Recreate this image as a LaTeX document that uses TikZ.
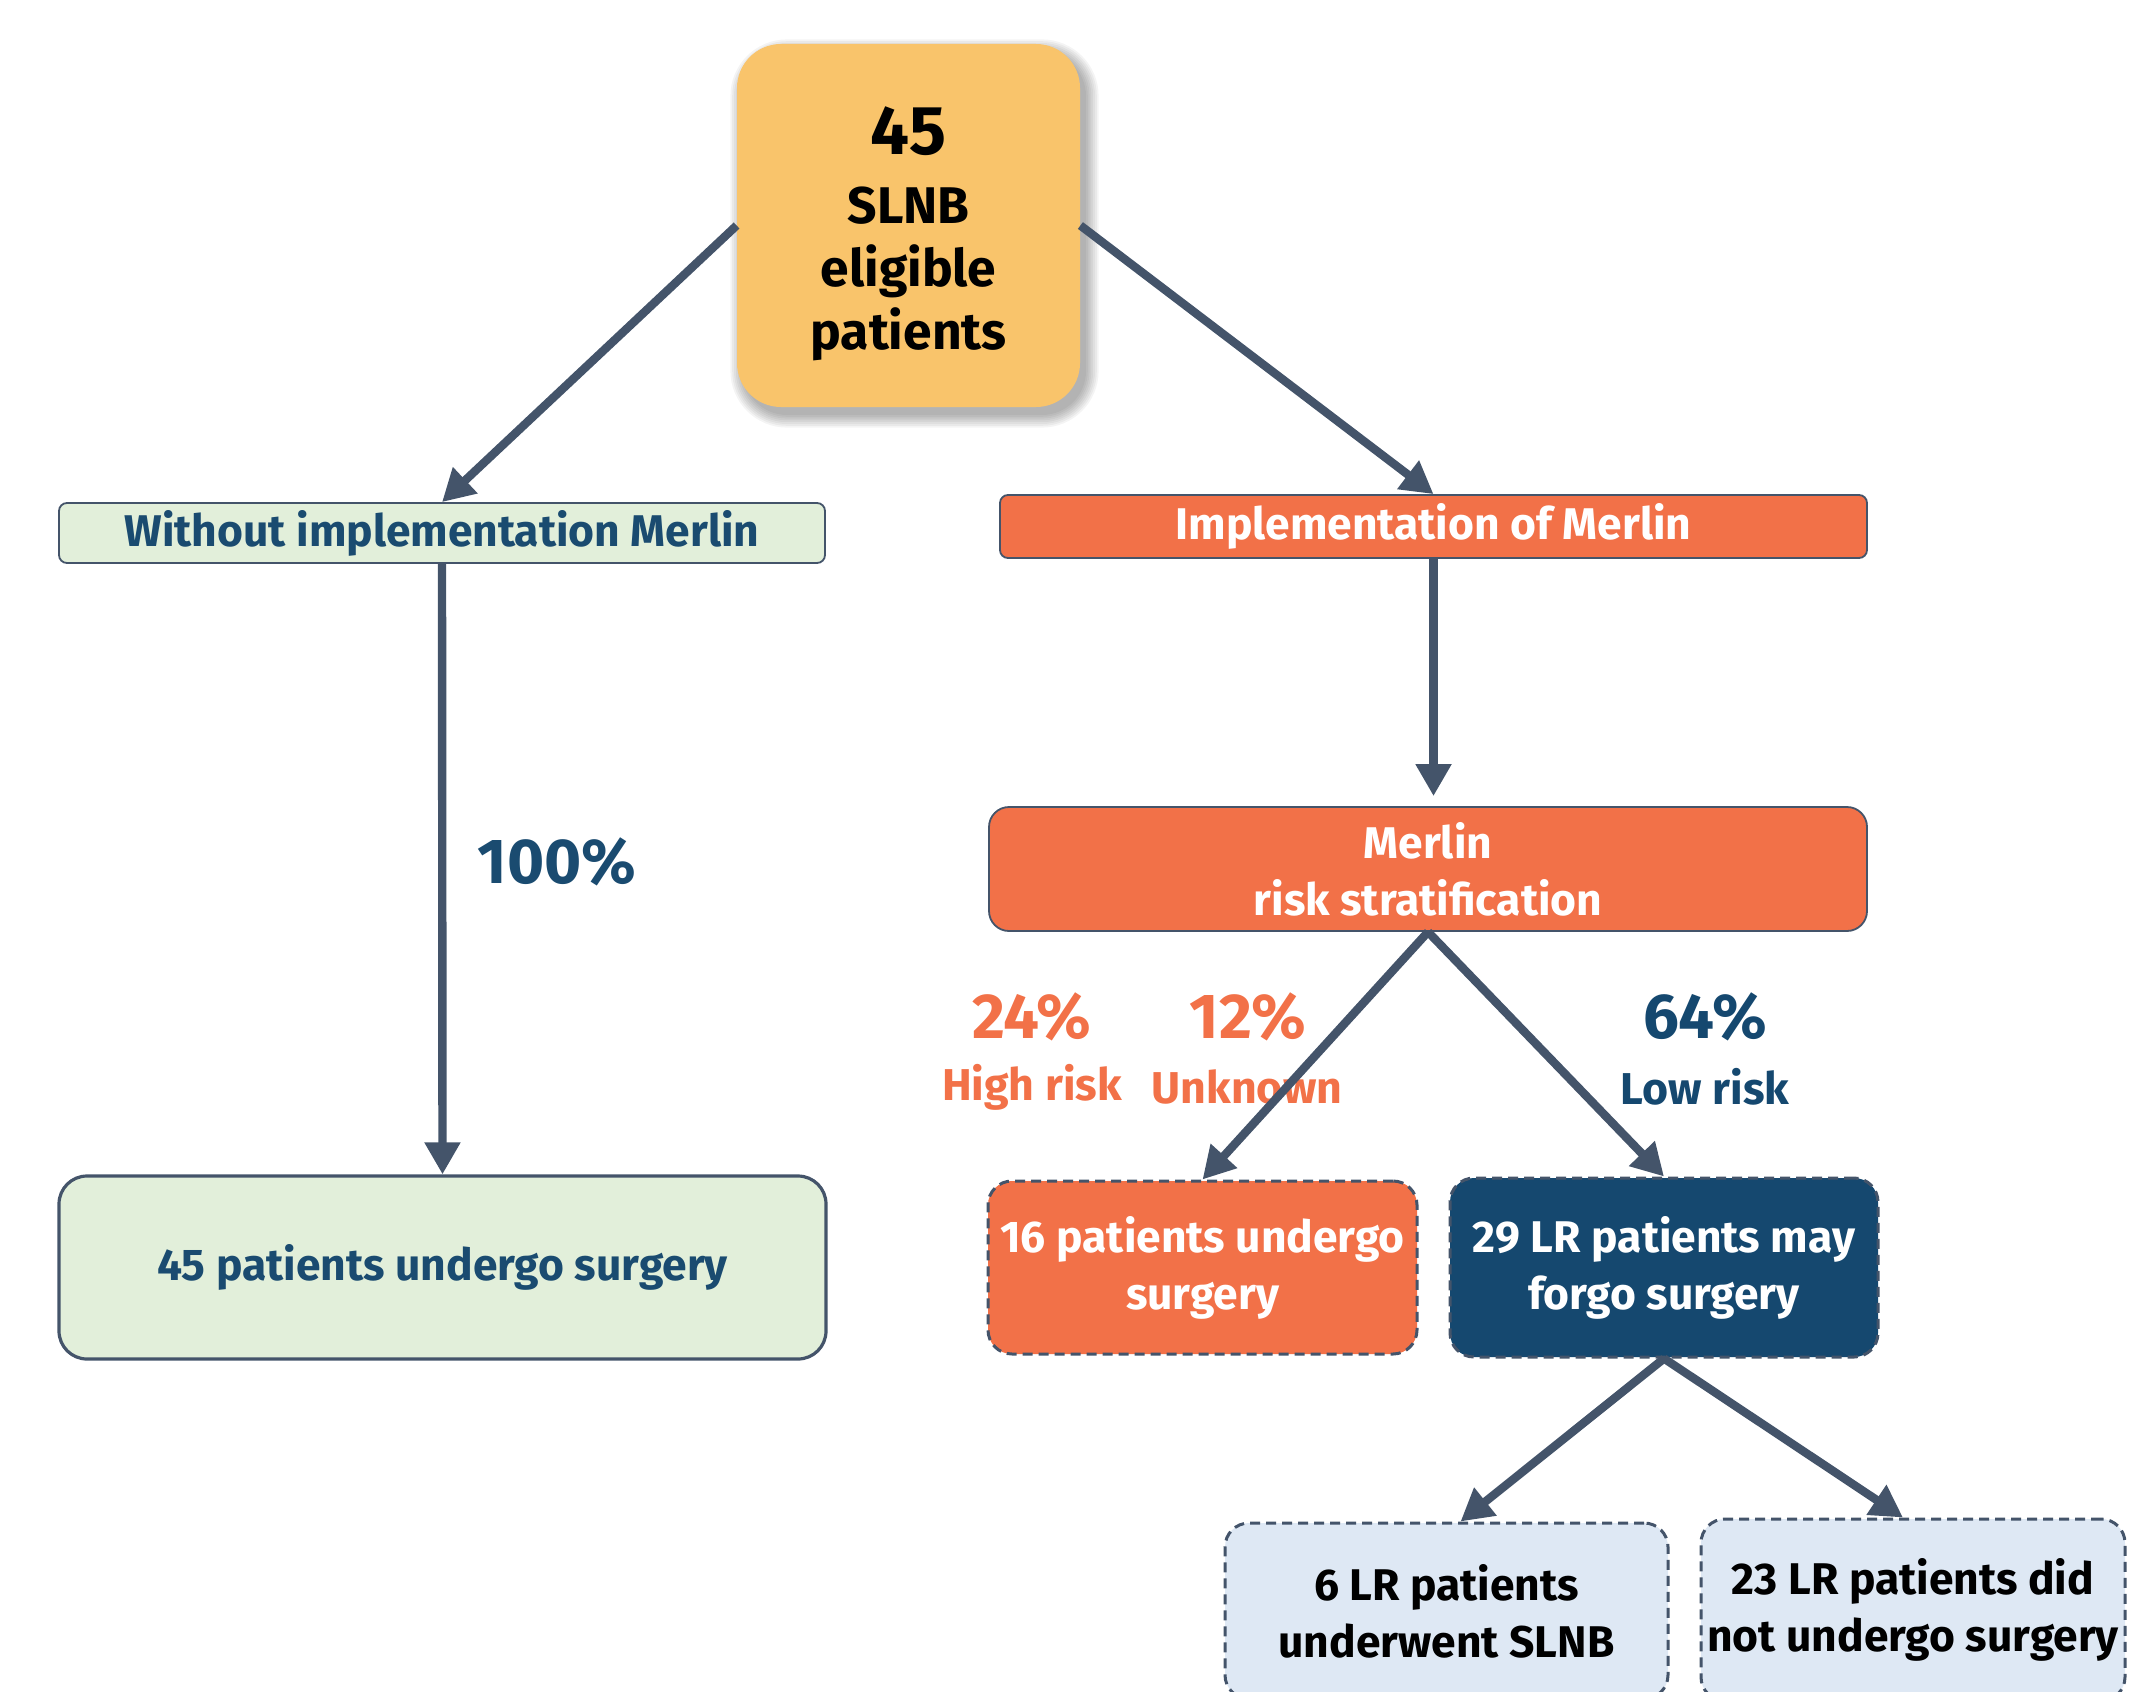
\documentclass[tikz,border=0pt]{standalone}
\usepackage{fontspec}
\setmainfont{Fira Sans}
\usetikzlibrary{arrows.meta}

\definecolor{amber}{HTML}{F9C46B}
\definecolor{coral}{HTML}{F27148}
\definecolor{navy}{HTML}{15486F}
\definecolor{inkblue}{HTML}{1A4B70}
\definecolor{mint}{HTML}{E2EFDA}
\definecolor{ice}{HTML}{DEE8F4}
\definecolor{slate}{HTML}{44546A}

\tikzset{
  base/.style={inner sep=0pt, align=center, font=\bfseries\fontsize{22.2}{28.5}\selectfont},
  startbox/.style={base, fill=amber, rounded corners=22pt},
  greenbar/.style={base, fill=mint, draw=slate, line width=0.9pt, rounded corners=4pt, text=inkblue},
  coralbar/.style={base, fill=coral, draw=slate, line width=0.9pt, rounded corners=4pt, text=white},
  greenbox/.style={base, fill=mint, draw=slate, line width=1.6pt, rounded corners=14pt, text=inkblue},
  coralbox/.style={base, fill=coral, draw=slate, line width=0.9pt, rounded corners=10pt, text=white},
  dashbox/.style={base, draw=slate, line width=1.5pt, dash pattern=on 5pt off 3pt, rounded corners=12pt},
  pct/.style={inner sep=0pt, font=\bfseries\fontsize{31.8}{31.8}\selectfont},
  risk/.style={inner sep=0pt, font=\bfseries\fontsize{22.3}{22.3}\selectfont},
  arr/.style={draw=slate, line width=4.2pt, -{Triangle[length=16pt,width=17pt]}},
}

\begin{document}
\begin{tikzpicture}[x=0.5pt,y=-0.5pt]
\useasboundingbox (0,0) rectangle (2151,1691);
\clip (0,0) rectangle (2151,1691);

% soft shadow under the start box, built from layered translucent fills
\foreach \g in {0,1,...,7}{
  \fill[black, opacity=0.045, rounded corners=22pt+\g*0.9pt]
    (737+6-\g*1.8,44+8-\g*1.8) rectangle (1080+6+\g*1.8,407+8+\g*1.8);
}

% start of the flow
\node[startbox, minimum width=171.5pt, minimum height=181.5pt] (top) at (908.5,225.5) {};
\node[base, font=\bfseries\fontsize{25.8}{31.5}\selectfont] (toptxt) at ([yshift=-4pt]top.center)
  {{\fontsize{34.5}{34.5}\selectfont 45}\\[3pt]SLNB\\eligible\\patients};

% the two branches
\node[greenbar, minimum width=383pt, minimum height=30pt] (lhead) at (442,533) {Without implementation Merlin};
\node[coralbar, minimum width=433.5pt, minimum height=31.5pt] (rhead) at (1433.5,526.5) {Implementation of Merlin};

% left branch outcome
\node[greenbox, minimum width=383.5pt, minimum height=91.5pt] (lbox) at (442.5,1267.5) {45 patients undergo surgery};
\node[pct, text=inkblue] (p100) at (557,862) {100\%};

% right branch
\node[coralbox, minimum width=439pt, minimum height=62pt] (merlin) at (1428,869) {Merlin\\risk stratification};

\node[pct, text=coral] (p24) at (1032,1017) {24\%};
\node[pct, text=coral] (p12) at (1248,1017) {12\%};
\node[pct, text=navy] (p64) at (1705,1017) {64\%};
\node[risk, text=coral] (hrisk) at (1032,1087) {High risk};
\node[risk, text=coral] (unk) at (1247,1087) {Unknown};
\node[risk, text=navy] (lrisk) at (1705,1087) {Low risk};

\node[dashbox, fill=coral, text=white, minimum width=214.5pt, minimum height=86.5pt] (hr) at (1202.5,1267.5) {16 patients undergo\\surgery};
\node[dashbox, fill=navy, text=white, minimum width=214pt, minimum height=89.5pt] (lr) at (1664,1267.5) {29 LR patients may\\forgo surgery};

\node[dashbox, fill=ice, text=black, minimum width=221.5pt, minimum height=88pt] (slnb) at (1446.5,1611) {6 LR patients\\underwent SLNB};
\node[dashbox, fill=ice, text=black, minimum width=212pt, minimum height=91pt] (nosurg) at (1913,1610) {23 LR patients did\\not undergo surgery};

% connectors
\draw[arr] (top.west) -- (lhead.north);
\draw[arr] (top.east) -- (rhead.north);
\draw[arr] (lhead.south) -- (lbox.north);
\draw[arr] (rhead.south) -- ([yshift=5pt]merlin.north -| rhead.south);
\draw[arr] (merlin.south) -- (hr.north);
\draw[arr] (merlin.south) -- (lr.north);
\draw[arr] (lr.south) -- ([xshift=7pt]slnb.north);
\draw[arr] (lr.south) -- ([xshift=-5pt]nosurg.north);
\end{tikzpicture}
\end{document}
